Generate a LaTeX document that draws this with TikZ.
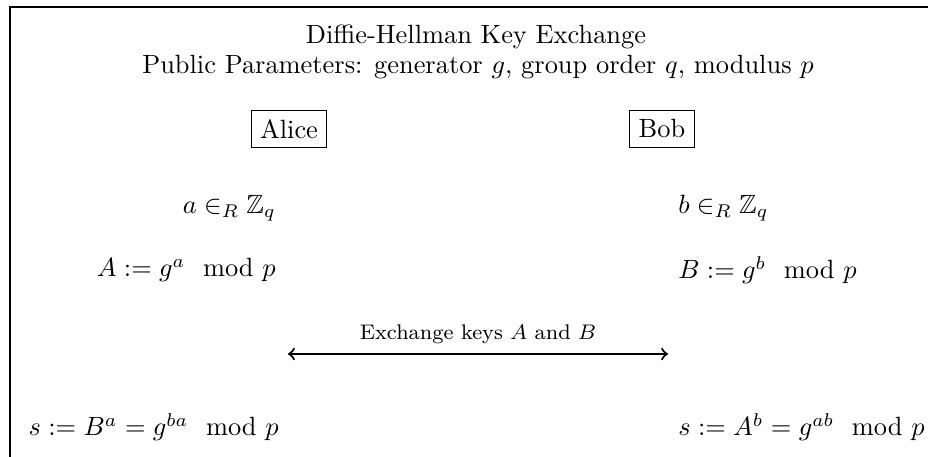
\documentclass[tikz,border=0pt]{standalone}
\usepackage{amsmath,amssymb}
\begin{document}
\begin{tikzpicture}[x=0.379pt,y=-0.379pt]
        \useasboundingbox (0,0) rectangle (928,457);
        \draw (10,457) -- (10,7) -- (928,7);
        \node (title)  at (476, 37) {Diffie-Hellman Key Exchange};
        \node (params) at (478, 67) {Public Parameters: generator $g$, group order $q$, modulus $p$};
        \node[draw] (alice) at (289, 129) {Alice};
        \node[draw] (bob)   at (662, 129) {Bob};
        \tikzstyle{every node}=[anchor=east]
        \node (a-pick) at (285, 208) {$a \in_R \mathbb{Z}_q$};
        \node (a-pub)  at (285, 270) {$A := g^a \mod{p}$};
        \node (a-key)  at (288, 427) {$s := B^a = g^{ba} \mod{p}$};
        \tikzstyle{every node}=[anchor=west]
        \node (b-pick) at (669, 208) {$b \in_R \mathbb{Z}_q$};
        \node (b-pub)  at (669, 270) {$B := g^b \mod{p}$};
        \node (b-key)  at (669, 427) {$s := A^b = g^{ab} \mod{p}$};
        \tikzstyle{every node}=[]
        \coordinate (ex-left)  at (288, 354);
        \coordinate (ex-right) at (668, 354);
        \draw[<->, thick] (ex-left) -- (ex-right) node[above, midway] {\footnotesize Exchange keys $A$ and $B$};
    \end{tikzpicture}
\end{document}
